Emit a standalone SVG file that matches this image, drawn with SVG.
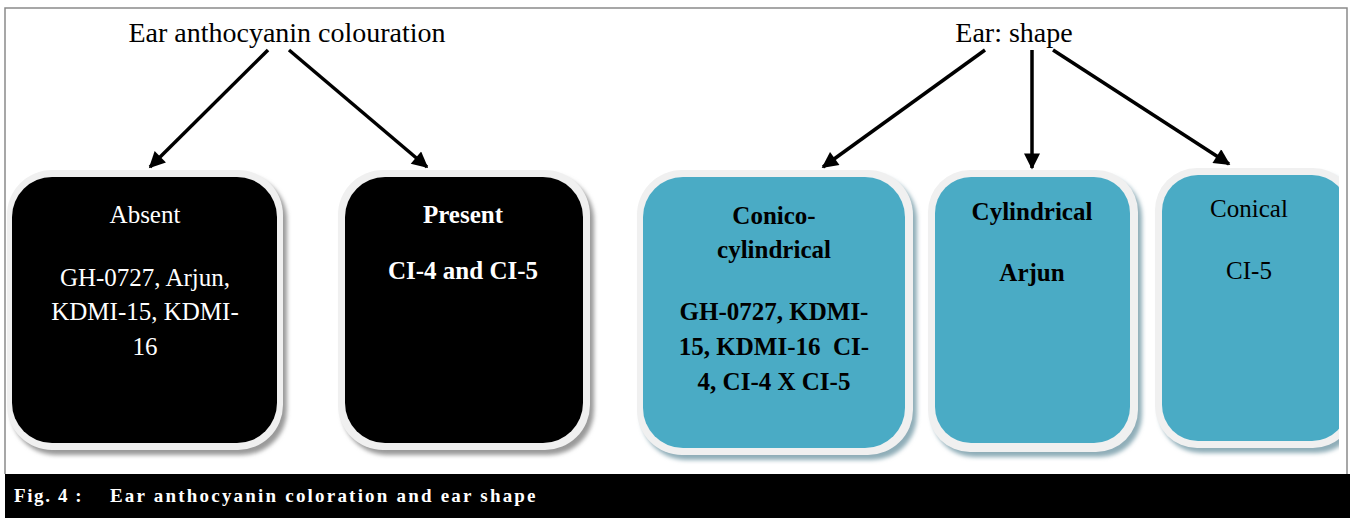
<svg xmlns="http://www.w3.org/2000/svg" width="1350" height="518" viewBox="0 0 1350 518">
<defs>
<style>
.t{font-family:"Liberation Serif","Times New Roman",serif;text-anchor:middle}
.hd{font-size:28px;fill:#000}
.w{font-size:25px;fill:#fff}
.k{font-size:25px;fill:#000}
.b{font-weight:bold}
.cap{font-family:"Liberation Serif","Times New Roman",serif;font-weight:bold;font-size:19px;fill:#fff}
.conn line{stroke:#000;stroke-width:3.5}
.border{fill:#f0f0f0}
.shadow{fill:#9a9a9a;filter:url(#blur)}
.tshadow{fill:#8fadb8;filter:url(#blur)}
.dark{fill:#000}
.teal{fill:#4aabc5}
</style>
<filter id="blur" x="-10%" y="-10%" width="120%" height="120%"><feGaussianBlur stdDeviation="2"/></filter>
<marker id="ah" viewBox="0 0 10 10" refX="9" refY="5" markerWidth="5" markerHeight="4.6" orient="auto" markerUnits="strokeWidth">
<path d="M0,0 L10,5 L0,10 z" fill="#000"/>
</marker>
<clipPath id="clipR"><rect x="0" y="0" width="1339" height="518"/></clipPath>
</defs>
<rect x="0" y="0" width="1350" height="518" fill="#fff"/>
<path d="M5,474 V8 H1347 V474" fill="none" stroke="#8a8a8a" stroke-width="1.5"/>

<g id="title-anthocyanin"><text class="t hd" x="287" y="42">Ear anthocyanin colouration</text></g>
<g id="title-shape"><text class="t hd" x="1014" y="42">Ear: shape</text></g>

<g id="connectors" class="conn">
<line x1="268" y1="50" x2="150" y2="167" marker-end="url(#ah)"/>
<line x1="289" y1="50" x2="427" y2="167" marker-end="url(#ah)"/>
<line x1="985" y1="50" x2="823" y2="167" marker-end="url(#ah)"/>
<line x1="1032" y1="50" x2="1032" y2="168" marker-end="url(#ah)"/>
<line x1="1053" y1="50" x2="1229" y2="164" marker-end="url(#ah)"/>
</g>

<g id="node-absent">
<rect class="shadow" x="11" y="175" width="276" height="280" rx="45"/>
<rect class="border" x="7" y="170" width="276" height="280" rx="45"/>
<rect class="dark" x="12" y="177" width="265" height="266" rx="40"/>
<text class="t w" x="145" y="223">Absent</text>
<text class="t w" x="145" y="286">GH-0727, Arjun,</text>
<text class="t w" x="145" y="320">KDMI-15, KDMI-</text>
<text class="t w" x="145" y="355">16</text>
</g>

<g id="node-present">
<rect class="shadow" x="342" y="175" width="252" height="280" rx="45"/>
<rect class="border" x="338" y="170" width="252" height="280" rx="45"/>
<rect class="dark" x="345" y="177" width="238" height="266" rx="40"/>
<text class="t w b" x="463" y="223">Present</text>
<text class="t w b" x="463" y="279">CI-4 and CI-5</text>
</g>

<g id="node-conico">
<rect class="tshadow" x="641" y="175" width="276" height="285" rx="45"/>
<rect class="border" x="637" y="170" width="276" height="285" rx="45"/>
<rect class="teal" x="643" y="177" width="262" height="271" rx="40"/>
<text class="t k b" x="774" y="224">Conico-</text>
<text class="t k b" x="774" y="258">cylindrical</text>
<text class="t k b" x="774" y="320">GH-0727, KDMI-</text>
<text class="t k b" x="774" y="355" xml:space="preserve">15, KDMI-16  CI-</text>
<text class="t k b" x="774" y="390">4, CI-4 X CI-5</text>
</g>

<g id="node-cylindrical">
<rect class="tshadow" x="932" y="175" width="210" height="282" rx="42"/>
<rect class="border" x="928" y="170" width="210" height="282" rx="42"/>
<rect class="teal" x="935" y="177" width="195" height="266" rx="36"/>
<text class="t k b" x="1032" y="220">Cylindrical</text>
<text class="t k b" x="1032" y="281">Arjun</text>
</g>

<g id="node-conical" clip-path="url(#clipR)">
<rect class="tshadow" x="1159" y="173" width="200" height="280" rx="42"/>
<rect class="border" x="1155" y="168" width="200" height="280" rx="42"/>
<rect class="teal" x="1162" y="175" width="186" height="266" rx="36"/>
<text class="t k" x="1249" y="217">Conical</text>
<text class="t k" x="1249" y="279">CI-5</text>
</g>

<g id="caption">
<rect x="5" y="474" width="1345" height="44" fill="#000"/>
<text class="cap" x="14" y="502" letter-spacing="1.6">Fig. 4 :</text>
<text class="cap" x="110" y="502" letter-spacing="2.2">Ear anthocyanin coloration and ear shape</text>
</g>
</svg>
